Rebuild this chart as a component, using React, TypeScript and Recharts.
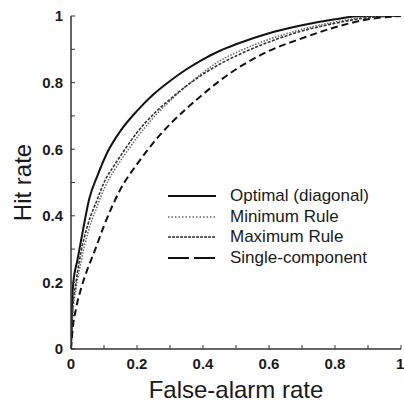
import { LineChart, Line, XAxis, YAxis, Legend } from 'recharts'

// ROC curves: false-alarm rate (fa) vs hit rate (hit)
const optimal = [
  { fa: 0, hit: 0 }, { fa: 0.003, hit: 0.12 }, { fa: 0.006, hit: 0.19 }, { fa: 0.02, hit: 0.27 },
  { fa: 0.035, hit: 0.35 }, { fa: 0.055, hit: 0.45 }, { fa: 0.08, hit: 0.52 }, { fa: 0.11, hit: 0.59 },
  { fa: 0.15, hit: 0.655 }, { fa: 0.2, hit: 0.715 }, { fa: 0.25, hit: 0.765 }, { fa: 0.3, hit: 0.805 },
  { fa: 0.35, hit: 0.84 }, { fa: 0.4, hit: 0.87 }, { fa: 0.45, hit: 0.895 }, { fa: 0.5, hit: 0.915 },
  { fa: 0.6, hit: 0.948 }, { fa: 0.7, hit: 0.972 }, { fa: 0.8, hit: 0.99 }, { fa: 0.88, hit: 1 },
  { fa: 1, hit: 1 },
]

const minimumRule = [
  { fa: 0, hit: 0 }, { fa: 0.005, hit: 0.1 }, { fa: 0.015, hit: 0.18 }, { fa: 0.03, hit: 0.26 },
  { fa: 0.05, hit: 0.345 }, { fa: 0.08, hit: 0.43 }, { fa: 0.1, hit: 0.48 }, { fa: 0.13, hit: 0.535 },
  { fa: 0.15, hit: 0.565 }, { fa: 0.2, hit: 0.635 }, { fa: 0.25, hit: 0.695 }, { fa: 0.3, hit: 0.745 },
  { fa: 0.35, hit: 0.79 }, { fa: 0.4, hit: 0.83 }, { fa: 0.45, hit: 0.865 }, { fa: 0.5, hit: 0.89 },
  { fa: 0.6, hit: 0.93 }, { fa: 0.7, hit: 0.96 }, { fa: 0.8, hit: 0.982 }, { fa: 0.9, hit: 0.997 },
  { fa: 1, hit: 1 },
]

const maximumRule = [
  { fa: 0, hit: 0 }, { fa: 0.005, hit: 0.12 }, { fa: 0.015, hit: 0.2 }, { fa: 0.03, hit: 0.29 },
  { fa: 0.05, hit: 0.37 }, { fa: 0.08, hit: 0.45 }, { fa: 0.1, hit: 0.5 }, { fa: 0.13, hit: 0.55 },
  { fa: 0.15, hit: 0.58 }, { fa: 0.2, hit: 0.65 }, { fa: 0.25, hit: 0.705 }, { fa: 0.3, hit: 0.75 },
  { fa: 0.35, hit: 0.79 }, { fa: 0.4, hit: 0.825 }, { fa: 0.45, hit: 0.855 }, { fa: 0.5, hit: 0.88 },
  { fa: 0.6, hit: 0.922 }, { fa: 0.7, hit: 0.955 }, { fa: 0.8, hit: 0.978 }, { fa: 0.9, hit: 0.995 },
  { fa: 1, hit: 1 },
]

const singleComponent = [
  { fa: 0, hit: 0 }, { fa: 0.005, hit: 0.06 }, { fa: 0.015, hit: 0.12 }, { fa: 0.03, hit: 0.18 },
  { fa: 0.05, hit: 0.24 }, { fa: 0.07, hit: 0.29 }, { fa: 0.1, hit: 0.37 }, { fa: 0.15, hit: 0.48 },
  { fa: 0.2, hit: 0.555 }, { fa: 0.25, hit: 0.62 }, { fa: 0.3, hit: 0.675 }, { fa: 0.35, hit: 0.722 },
  { fa: 0.4, hit: 0.765 }, { fa: 0.45, hit: 0.805 }, { fa: 0.5, hit: 0.84 }, { fa: 0.6, hit: 0.895 },
  { fa: 0.7, hit: 0.933 }, { fa: 0.8, hit: 0.966 }, { fa: 0.9, hit: 0.99 }, { fa: 1, hit: 1 },
]

const ticks = [0, 0.1, 0.2, 0.3, 0.4, 0.5, 0.6, 0.7, 0.8, 0.9, 1]

const series = [
  { name: 'Optimal (diagonal)', data: optimal, stroke: '#111', width: 2, dash: undefined, legendDash: undefined },
  { name: 'Minimum Rule', data: minimumRule, stroke: '#666', width: 1.5, dash: '1.5 1.5', legendDash: '1.5 2' },
  { name: 'Maximum Rule', data: maximumRule, stroke: '#333', width: 1.6, dash: '3 1.5', legendDash: '3 1' },
  { name: 'Single-component', data: singleComponent, stroke: '#111', width: 2, dash: '7 4', legendDash: '21 5' },
]

const font = '"Liberation Sans", Arial, sans-serif'
const ink = '#1a1a1a'
const axisLine = { stroke: '#333', strokeWidth: 1.5 }
const tickFmt = (v: number) => (Math.round(v * 10) % 2 === 0 ? String(v) : '')
const tickStyle = { fill: ink, fontSize: 15, fontWeight: 700, fontFamily: font }

function LegendBox() {
  return (
    <div style={{ fontFamily: font, fontSize: 17, color: ink }}>
      {series.map((s) => (
        <div key={s.name} style={{ display: 'flex', alignItems: 'center', height: 20.5 }}>
          <svg width={50} height={8} style={{ marginRight: 14 }}>
            <line x1={2} y1={4} x2={50} y2={4} stroke={s.stroke} strokeWidth={s.width} strokeDasharray={s.legendDash} />
          </svg>
          <span>{s.name}</span>
        </div>
      ))}
    </div>
  )
}

export default function App() {
  return (
    <div style={{ position: 'absolute', left: 0, top: 0, background: '#fff' }}>
      <LineChart width={404} height={402} margin={{ top: 16, right: 3, left: 0, bottom: 0 }}>
        <XAxis
          dataKey="fa"
          type="number"
          domain={[0, 1]}
          ticks={ticks}
          tickFormatter={tickFmt}
          height={53}
          tickSize={-4}
          tickMargin={13}
          tick={tickStyle}
          axisLine={axisLine}
          tickLine={{ stroke: '#333' }}
          allowDataOverflow
          label={{ value: 'False-alarm rate', position: 'insideBottom', offset: 4, fill: ink, fontSize: 24, fontFamily: font }}
        />
        <XAxis
          xAxisId="top"
          orientation="top"
          type="number"
          domain={[0, 1]}
          ticks={ticks}
          tickFormatter={() => ''}
          height={0}
          tickSize={-4}
          axisLine={axisLine}
          tickLine={{ stroke: '#333' }}
          allowDataOverflow
        />
        <YAxis
          type="number"
          domain={[0, 1]}
          ticks={ticks}
          tickFormatter={tickFmt}
          width={71}
          tickSize={-4}
          tickMargin={12}
          tick={tickStyle}
          axisLine={axisLine}
          tickLine={{ stroke: '#333' }}
          allowDataOverflow
          label={{ value: 'Hit rate', angle: -90, position: 'insideLeft', offset: 22, fill: ink, fontSize: 24, fontFamily: font, style: { textAnchor: 'middle' } }}
        />
        <YAxis
          yAxisId="right"
          orientation="right"
          type="number"
          domain={[0, 1]}
          ticks={ticks}
          tickFormatter={() => ''}
          width={0}
          tickSize={-4}
          axisLine={axisLine}
          tickLine={{ stroke: '#333' }}
          allowDataOverflow
        />
        <Legend
          layout="vertical"
          align="center"
          verticalAlign="middle"
          wrapperStyle={{ left: 166, top: 186, width: 236 }}
          content={() => <LegendBox />}
        />
        {series.map((s) => (
          <Line
            key={s.name}
            name={s.name}
            data={s.data}
            dataKey="hit"
            type="monotone"
            stroke={s.stroke}
            strokeWidth={s.width}
            strokeDasharray={s.dash}
            dot={false}
            isAnimationActive={false}
          />
        ))}
      </LineChart>
    </div>
  )
}
